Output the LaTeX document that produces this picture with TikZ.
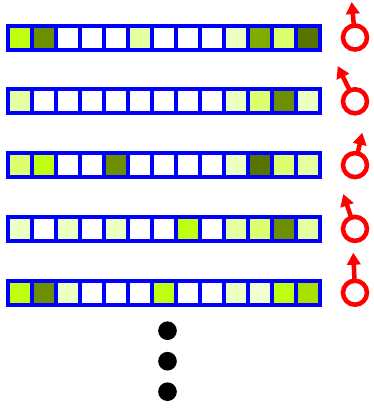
\documentclass[tikz,border=0pt]{standalone}
\usepackage{tikz}
\usetikzlibrary{arrows.meta}
\definecolor{cY}{RGB}{192,255,16}
\definecolor{cO}{RGB}{107,143,0}
\definecolor{cD}{RGB}{88,115,0}
\definecolor{cM}{RGB}{128,172,0}
\definecolor{cG}{RGB}{170,224,0}
\definecolor{cL}{RGB}{220,255,110}
\definecolor{cA}{RGB}{230,255,160}
\definecolor{cP}{RGB}{238,255,196}
\definecolor{cQ}{RGB}{242,255,210}
\tikzset{
  cell/.style={draw=blue, fill=#1, line width=3pt, minimum size=18pt, inner sep=0pt, outer sep=0pt},
  ring/.style={circle, draw=red, line width=3.4pt, minimum size=18pt, inner sep=0pt, outer sep=0pt},
  arr/.style={draw=red, line width=3.4pt, -{Triangle[length=9pt,width=10pt]}},
  dotnode/.style={circle, fill=black, minimum size=14pt, inner sep=0pt}
}

\begin{document}
\begin{tikzpicture}[x=0.75pt, y=-0.75pt]
\useasboundingbox (0,0) rectangle (374,408);
%%% the rows %%%

      \foreach \r/\y/\cols in {
        1/37.5/{cY,cO,white,white,white,cA,white,white,white,cP,cM,cL,cD},
        2/101.3/{cA,white,white,white,white,white,white,white,white,cP,cL,cO,cP},
        3/165.1/{cL,cY,white,white,cO,white,white,white,white,cP,cD,cL,cA},
        4/228.9/{cP,white,cP,white,cP,white,white,cY,white,cA,cL,cO,cA},
        5/292.7/{cY,cO,cP,white,white,white,cY,white,white,cP,cQ,cY,cG}}
      {
        \foreach \c [count=\k] in \cols
          \node[cell=\c] (r\r c\k) at ({20+24*(\k-1)}, \y) {};
      }
      %% 
      \node[ring] (ring1) at (355, 37.5) {};
      \coordinate (tip1) at (351.7, 2);
      \draw[arr] (ring1) -- (tip1);
      %% 
      \node[ring] (ring2) at (355, 101.3) {};
      \coordinate (tip2) at (337.7, 66);
      \draw[arr] (ring2) -- (tip2);
      %% 
      \node[ring] (ring3) at (355, 165.1) {};
      \coordinate (tip3) at (362.3, 132.7);
      \draw[arr] (ring3) -- (tip3);
      %% 
      \node[ring] (ring4) at (355, 228.9) {};
      \coordinate (tip4) at (343.3, 194);
      \draw[arr] (ring4) -- (tip4);
      %% 
      \node[ring] (ring5) at (355, 292.7) {};
      \coordinate (tip5) at (353.3, 252.7);
      \draw[arr] (ring5) -- (tip5);
      %% 
      \node[dotnode] (dot1) at (167.5, 330.7) {};
      \node[dotnode] (dot2) at (167.5, 361.2) {};
      \node[dotnode] (dot3) at (167.5, 391.7) {};

\end{tikzpicture}
\end{document}
